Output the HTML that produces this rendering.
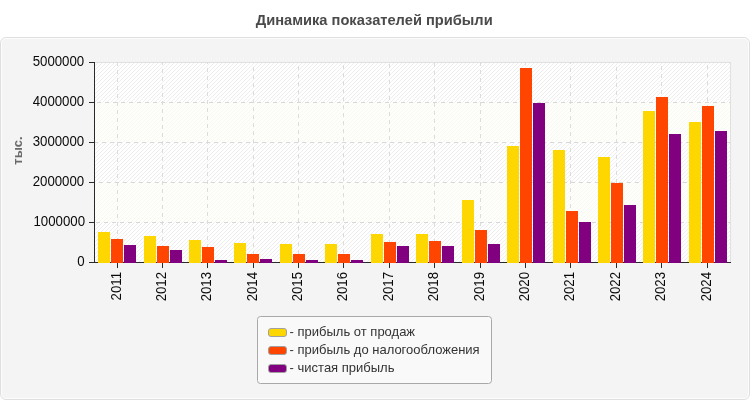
<!DOCTYPE html>
<html><head><meta charset="utf-8"><title>chart</title>
<style>
html,body{margin:0;padding:0;background:#fff;}
body{width:750px;height:400px;overflow:hidden;font-family:"Liberation Sans",sans-serif;}
svg{display:block;will-change:transform;}
text{font-family:"Liberation Sans",sans-serif;}
</style></head><body>
<svg width="750" height="400" viewBox="0 0 750 400">
<defs>
<pattern id="hg" x="1" y="0" width="4" height="4" patternUnits="userSpaceOnUse">
<rect width="4" height="4" fill="#ffffff"/>
<g fill="#eeeeee" shape-rendering="crispEdges"><rect x="3" y="0" width="1" height="1"/><rect x="2" y="1" width="1" height="1"/><rect x="1" y="2" width="1" height="1"/><rect x="0" y="3" width="1" height="1"/></g>
</pattern>
<pattern id="hy" x="1" y="0" width="4" height="4" patternUnits="userSpaceOnUse">
<rect width="4" height="4" fill="#fefefa"/>
<g fill="#f8f8f3" shape-rendering="crispEdges"><rect x="3" y="0" width="1" height="1"/><rect x="2" y="1" width="1" height="1"/><rect x="1" y="2" width="1" height="1"/><rect x="0" y="3" width="1" height="1"/></g>
</pattern>
</defs>
<rect x="0" y="0" width="750" height="400" fill="#ffffff"/>
<rect x="0.5" y="37.5" width="749" height="362" rx="5.5" ry="5.5" fill="#f4f4f4" stroke="#dfdfdf" stroke-width="1"/>
<rect x="1.5" y="38.5" width="747" height="360" rx="4.5" ry="4.5" fill="none" stroke="#fcfcfc" stroke-width="1"/>
<text x="374.2" y="24.8" font-size="14.67" font-weight="bold" fill="#4a4a4a" text-anchor="middle">Динамика показателей прибыли</text>

<rect x="95" y="62" width="635" height="200" fill="url(#hg)" shape-rendering="crispEdges"/>
<g fill="#e0e0e0" shape-rendering="crispEdges"><rect x="95" y="62" width="636" height="1"/><rect x="730" y="62" width="1" height="200"/></g>
<rect x="95" y="103" width="635" height="39" fill="url(#hy)" shape-rendering="crispEdges"/>
<rect x="95" y="183" width="635" height="39" fill="url(#hy)" shape-rendering="crispEdges"/>
<g stroke="#dcdcdc" stroke-width="1" shape-rendering="crispEdges" stroke-dasharray="4 4">
<line x1="117.5" y1="62" x2="117.5" y2="262" stroke-dashoffset="0"/>
<line x1="162.5" y1="62" x2="162.5" y2="262" stroke-dashoffset="1"/>
<line x1="207.5" y1="62" x2="207.5" y2="262" stroke-dashoffset="2"/>
<line x1="253.5" y1="62" x2="253.5" y2="262" stroke-dashoffset="3"/>
<line x1="298.5" y1="62" x2="298.5" y2="262" stroke-dashoffset="4"/>
<line x1="343.5" y1="62" x2="343.5" y2="262" stroke-dashoffset="5"/>
<line x1="389.5" y1="62" x2="389.5" y2="262" stroke-dashoffset="6"/>
<line x1="434.5" y1="62" x2="434.5" y2="262" stroke-dashoffset="7"/>
<line x1="480.5" y1="62" x2="480.5" y2="262" stroke-dashoffset="0"/>
<line x1="525.5" y1="62" x2="525.5" y2="262" stroke-dashoffset="1"/>
<line x1="570.5" y1="62" x2="570.5" y2="262" stroke-dashoffset="2"/>
<line x1="616.5" y1="62" x2="616.5" y2="262" stroke-dashoffset="3"/>
<line x1="661.5" y1="62" x2="661.5" y2="262" stroke-dashoffset="4"/>
<line x1="707.5" y1="62" x2="707.5" y2="262" stroke-dashoffset="5"/>
</g>
<g stroke="#d8d8d8" stroke-width="1" shape-rendering="crispEdges" stroke-dasharray="4 4">
<line x1="95" y1="102.5" x2="730" y2="102.5" stroke-dashoffset="6"/>
<line x1="95" y1="142.5" x2="730" y2="142.5" stroke-dashoffset="1"/>
<line x1="95" y1="182.5" x2="730" y2="182.5" stroke-dashoffset="4"/>
<line x1="95" y1="222.5" x2="730" y2="222.5" stroke-dashoffset="7"/>
</g>
<g fill="#2a2a2a" shape-rendering="crispEdges">
<rect x="94" y="62" width="1" height="201"/>
<rect x="94" y="262" width="637" height="1"/>
<rect x="89" y="62" width="5" height="1"/>
<rect x="89" y="102" width="5" height="1"/>
<rect x="89" y="142" width="5" height="1"/>
<rect x="89" y="182" width="5" height="1"/>
<rect x="89" y="222" width="5" height="1"/>
<rect x="89" y="262" width="5" height="1"/>
<rect x="117" y="263" width="1" height="5"/>
<rect x="162" y="263" width="1" height="5"/>
<rect x="207" y="263" width="1" height="5"/>
<rect x="253" y="263" width="1" height="5"/>
<rect x="298" y="263" width="1" height="5"/>
<rect x="343" y="263" width="1" height="5"/>
<rect x="389" y="263" width="1" height="5"/>
<rect x="434" y="263" width="1" height="5"/>
<rect x="480" y="263" width="1" height="5"/>
<rect x="525" y="263" width="1" height="5"/>
<rect x="570" y="263" width="1" height="5"/>
<rect x="616" y="263" width="1" height="5"/>
<rect x="661" y="263" width="1" height="5"/>
<rect x="707" y="263" width="1" height="5"/>
</g>
<g shape-rendering="crispEdges">
<rect x="98" y="232" width="12" height="31" fill="#FFD700"/>
<rect x="111" y="239" width="12" height="24" fill="#FF4500"/>
<rect x="124" y="245" width="12" height="18" fill="#800080"/>
<rect x="144" y="236" width="12" height="27" fill="#FFD700"/>
<rect x="157" y="246" width="12" height="17" fill="#FF4500"/>
<rect x="170" y="250" width="12" height="13" fill="#800080"/>
<rect x="189" y="240" width="12" height="23" fill="#FFD700"/>
<rect x="202" y="247" width="12" height="16" fill="#FF4500"/>
<rect x="215" y="260" width="12" height="3" fill="#800080"/>
<rect x="234" y="243" width="12" height="20" fill="#FFD700"/>
<rect x="247" y="254" width="12" height="9" fill="#FF4500"/>
<rect x="260" y="259" width="12" height="4" fill="#800080"/>
<rect x="280" y="244" width="12" height="19" fill="#FFD700"/>
<rect x="293" y="254" width="12" height="9" fill="#FF4500"/>
<rect x="306" y="260" width="12" height="3" fill="#800080"/>
<rect x="325" y="244" width="12" height="19" fill="#FFD700"/>
<rect x="338" y="254" width="12" height="9" fill="#FF4500"/>
<rect x="351" y="260" width="12" height="3" fill="#800080"/>
<rect x="371" y="234" width="12" height="29" fill="#FFD700"/>
<rect x="384" y="242" width="12" height="21" fill="#FF4500"/>
<rect x="397" y="246" width="12" height="17" fill="#800080"/>
<rect x="416" y="234" width="12" height="29" fill="#FFD700"/>
<rect x="429" y="241" width="12" height="22" fill="#FF4500"/>
<rect x="442" y="246" width="12" height="17" fill="#800080"/>
<rect x="462" y="200" width="12" height="63" fill="#FFD700"/>
<rect x="475" y="230" width="12" height="33" fill="#FF4500"/>
<rect x="488" y="244" width="12" height="19" fill="#800080"/>
<rect x="507" y="146" width="12" height="117" fill="#FFD700"/>
<rect x="520" y="68" width="12" height="195" fill="#FF4500"/>
<rect x="533" y="103" width="12" height="160" fill="#800080"/>
<rect x="553" y="150" width="12" height="113" fill="#FFD700"/>
<rect x="566" y="211" width="12" height="52" fill="#FF4500"/>
<rect x="579" y="222" width="12" height="41" fill="#800080"/>
<rect x="598" y="157" width="12" height="106" fill="#FFD700"/>
<rect x="611" y="183" width="12" height="80" fill="#FF4500"/>
<rect x="624" y="205" width="12" height="58" fill="#800080"/>
<rect x="643" y="111" width="12" height="152" fill="#FFD700"/>
<rect x="656" y="97" width="12" height="166" fill="#FF4500"/>
<rect x="669" y="134" width="12" height="129" fill="#800080"/>
<rect x="689" y="122" width="12" height="141" fill="#FFD700"/>
<rect x="702" y="106" width="12" height="157" fill="#FF4500"/>
<rect x="715" y="131" width="12" height="132" fill="#800080"/>
</g>
<g font-size="13.8" fill="#0a0a0a" text-anchor="end">
<text transform="translate(84.2,66.3) scale(0.96,1)">5000000</text>
<text transform="translate(84.2,106.3) scale(0.96,1)">4000000</text>
<text transform="translate(84.2,146.3) scale(0.96,1)">3000000</text>
<text transform="translate(84.2,186.3) scale(0.96,1)">2000000</text>
<text transform="translate(85.0,226.3) scale(0.96,1)">1000000</text>
<text transform="translate(84.6,266.3) scale(0.96,1)">0</text>
</g>
<g font-size="13.8" fill="#0a0a0a" text-anchor="end">
<text transform="translate(121.1,271.9) rotate(-90) scale(0.96,1)" x="0" y="0">2011</text>
<text transform="translate(166.1,271.9) rotate(-90) scale(0.96,1)" x="0" y="0">2012</text>
<text transform="translate(211.1,271.9) rotate(-90) scale(0.96,1)" x="0" y="0">2013</text>
<text transform="translate(257.1,271.9) rotate(-90) scale(0.96,1)" x="0" y="0">2014</text>
<text transform="translate(302.1,271.9) rotate(-90) scale(0.96,1)" x="0" y="0">2015</text>
<text transform="translate(347.1,271.9) rotate(-90) scale(0.96,1)" x="0" y="0">2016</text>
<text transform="translate(393.1,271.9) rotate(-90) scale(0.96,1)" x="0" y="0">2017</text>
<text transform="translate(438.1,271.9) rotate(-90) scale(0.96,1)" x="0" y="0">2018</text>
<text transform="translate(484.1,271.9) rotate(-90) scale(0.96,1)" x="0" y="0">2019</text>
<text transform="translate(529.1,271.9) rotate(-90) scale(0.96,1)" x="0" y="0">2020</text>
<text transform="translate(574.1,271.9) rotate(-90) scale(0.96,1)" x="0" y="0">2021</text>
<text transform="translate(620.1,271.9) rotate(-90) scale(0.96,1)" x="0" y="0">2022</text>
<text transform="translate(665.1,271.9) rotate(-90) scale(0.96,1)" x="0" y="0">2023</text>
<text transform="translate(711.1,271.9) rotate(-90) scale(0.96,1)" x="0" y="0">2024</text>
</g>
<text transform="translate(21.8,150.5) rotate(-90)" font-size="13" font-weight="bold" fill="#6a6a6a" text-anchor="middle">тыс.</text>
<rect x="257.5" y="316.5" width="234" height="67" rx="3" ry="3" fill="#f9f9f9" stroke="#a8a8a8" stroke-width="1"/>
<rect x="268.5" y="328.5" width="18" height="8" rx="2.5" ry="2.5" fill="#FFD700" stroke="#a0a0a0" stroke-width="1"/>
<text x="289.6" y="336.3" font-size="13" fill="#333333">- прибыль от продаж</text>
<rect x="268.5" y="346.5" width="18" height="8" rx="2.5" ry="2.5" fill="#FF4500" stroke="#a0a0a0" stroke-width="1"/>
<text x="289.6" y="354.3" font-size="13" fill="#333333">- прибыль до налогообложения</text>
<rect x="268.5" y="364.5" width="18" height="8" rx="2.5" ry="2.5" fill="#800080" stroke="#a0a0a0" stroke-width="1"/>
<text x="289.6" y="372.3" font-size="13" fill="#333333">- чистая прибыль</text>
</svg>
</body></html>
